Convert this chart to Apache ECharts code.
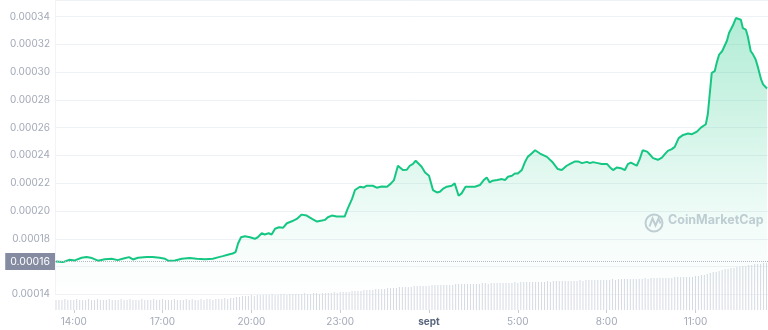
<!DOCTYPE html>
<html>
<head>
<meta charset="utf-8">
<script src="https://cdn.jsdelivr.net/npm/echarts@6/dist/echarts.min.js"></script>
<style>
html,body{margin:0;padding:0;background:#fff;}
#chart{width:768px;height:330px;}
</style>
</head>
<body>
<div id="chart"></div>
<script>
// Price samples (local time, rolls over midnight)
var priceTimes = ["13:24","13:38","13:52","14:02","14:16","14:26","14:37","14:49","15:03","15:17",
"15:29","15:41","15:52","16:00","16:10","16:28","16:40","16:54","17:05","17:11",
"17:25","17:39","17:55","18:09","18:26","18:42","18:52","19:02","19:12","19:22",
"19:28","19:33","19:39","19:47","19:57",
"20:07","20:13","20:21","20:27","20:35","20:41","20:48","20:56","21:04","21:12",
"21:22","21:32","21:42","21:52","22:03","22:13","22:23","22:29","22:35","22:43",
"22:53","23:09","23:15","23:24","23:30","23:40","23:48","23:54","23:58",
"00:06","00:14","00:24","00:35","00:43","00:49","00:57","01:01","01:07","01:15",
"01:21","01:27","01:33","01:37","01:45","01:52","01:56","02:00","02:08","02:16",
"02:22","02:28","02:36","02:46","02:52","02:56","03:00","03:06","03:14","03:22",
"03:33","03:43","03:51","03:57","04:03","04:09","04:18","04:28","04:34","04:40",
"04:48","04:54","05:00","05:08","05:14","05:20","05:28","05:35","05:45","05:59",
"06:11","06:21","06:29","06:39","06:45","06:56","07:02","07:10","07:20","07:26",
"07:32","07:42","07:50","08:01","08:07","08:13","08:21","08:31","08:37","08:43",
"08:49","08:55","09:01","09:07","09:13","09:22","09:28","09:34","09:44","09:52",
"09:58","10:04","10:12","10:18","10:22","10:26","10:35","10:45","10:53","11:03",
"11:11","11:15","11:21","11:25","11:29","11:33","11:39","11:43","11:48","11:54",
"11:58","12:04","12:08","12:16","12:22","12:26","12:32","12:36","12:42","12:46",
"12:52","12:56","13:02","13:07","13:13","13:17","13:21","13:25"];

var prices = [0.0001637,0.0001632,0.0001649,0.0001644,0.0001663,0.0001668,0.0001661,0.0001642,0.0001653,0.0001656,
0.0001646,0.0001658,0.0001668,0.0001651,0.0001663,0.0001668,0.0001668,0.0001663,0.0001656,0.0001642,
0.0001644,0.0001656,0.0001661,0.0001656,0.0001653,0.0001656,0.0001666,0.0001675,0.0001685,0.0001694,
0.0001704,0.0001766,0.0001811,0.0001818,0.0001811,
0.0001800,0.0001811,0.0001840,0.0001831,0.0001840,0.0001831,0.0001872,0.0001883,0.0001879,0.0001912,
0.0001926,0.0001943,0.0001974,0.0001967,0.0001943,0.0001924,0.0001931,0.0001936,0.0001955,0.0001967,
0.0001960,0.0001960,0.0002015,0.0002087,0.0002151,0.0002175,0.0002170,0.0002182,0.0002170,
0.0002182,0.0002168,0.0002177,0.0002175,0.0002199,0.0002223,0.0002326,0.0002319,0.0002295,0.0002297,
0.0002326,0.0002338,0.0002362,0.0002354,0.0002319,0.0002278,0.0002285,0.0002254,0.0002151,0.0002134,
0.0002139,0.0002159,0.0002175,0.0002182,0.0002199,0.0002189,0.0002110,0.0002127,0.0002175,0.0002175,
0.0002175,0.0002187,0.0002223,0.0002242,0.0002206,0.0002218,0.0002223,0.0002230,0.0002223,0.0002247,
0.0002254,0.0002270,0.0002270,0.0002295,0.0002349,0.0002390,0.0002414,0.0002438,0.0002414,0.0002390,
0.0002349,0.0002302,0.0002295,0.0002326,0.0002338,0.0002357,0.0002357,0.0002345,0.0002354,0.0002345,
0.0002352,0.0002345,0.0002338,0.0002338,0.0002314,0.0002295,0.0002314,0.0002306,0.0002295,0.0002338,
0.0002349,0.0002338,0.0002326,0.0002374,0.0002438,0.0002428,0.0002405,0.0002381,0.0002369,0.0002385,
0.0002410,0.0002433,0.0002446,0.0002462,0.0002457,0.0002525,0.0002548,0.0002558,0.0002553,0.0002572,
0.0002601,0.0002589,0.0002625,0.0002697,0.0002701,0.0002995,0.0003007,0.0003067,0.0003127,0.0003151,
0.0003139,0.0003228,0.0003282,0.0003338,0.0003390,0.0003402,0.0003378,0.0003318,0.0003307,0.0003259,
0.0003151,0.0003132,0.0003091,0.0003031,0.0002948,0.0002912,0.0002924,0.0002883];

// Volume bars, one every 6 minutes starting 13:24 (relative units)
var volumeStart = "13:24";
var volumeStepMin = 6;
var volumes = [
10,10,10,11,10,10,10,11,10,10,
10,11,10,10,11,10,10,10,11,10,
10,10,11,10,10,11,10,10,10,11,
10,10,10,11,10,10,11,10,10,10,
11,10,10,10,11,10,11,10,10,11,
10,11,11,10,11,11,11,12,11,12,
12,13,13,14,14,14,15,14,15,15,
15,15,15,16,15,15,16,16,15,16,
16,16,16,16,17,16,16,17,17,16,
17,17,17,17,18,17,18,18,18,18,
19,19,19,19,20,20,20,20,21,21,
21,21,22,22,22,22,23,23,23,23,
23,24,24,24,24,24,24,25,25,25,
25,25,25,25,25,26,26,26,26,26,
26,26,26,26,27,27,26,27,27,27,
27,27,27,27,27,28,27,28,28,28,
28,28,28,28,28,28,29,28,29,29,
29,29,29,29,29,29,29,30,29,30,
30,30,30,30,30,30,30,30,31,30,
31,31,31,31,31,31,31,31,31,32,
31,32,32,32,32,32,32,32,32,33,
33,33,33,33,33,33,34,34,35,35,
36,37,38,38,39,40,41,41,42,42,
43,43,44,44,45,45,46,46,46,47,
47];

// x-axis tick positions (minutes from day-1 midnight) and labels
var tickMinutes = [840,1020,1200,1380,1560,1740,1920,2100];
var tickLabels = ["14:00","17:00","20:00","23:00","sept","5:00","8:00","11:00"];
var yDecimals = 5;

var xMin = 802, xMax = 2247;

function toMin(s){var p=s.split(":");return (+p[0])*60+(+p[1]);}
var priceData = [];
var prev = -1, offset = 0;
for (var i=0;i<priceTimes.length;i++){
  var m = toMin(priceTimes[i]);
  if (prev >= 0 && m + offset < prev) offset += 1440;
  m += offset; prev = m;
  priceData.push([m, prices[i]]);
}
var volData = [];
var vs = toMin(volumeStart);
for (var j=0;j<volumes.length;j++){ volData.push([vs + j*volumeStepMin, volumes[j]]); }

var labelMap = {};
for (var k=0;k<tickMinutes.length;k++) labelMap[tickMinutes[k]] = tickLabels[k];

var chart = echarts.init(document.getElementById('chart'), null, {renderer:'canvas'});
var font = 'Inter, "Noto Sans", sans-serif';
var refLabel = prices[0].toFixed(yDecimals);
chart.setOption({
  animation:false,
  backgroundColor:'#ffffff',
  grid:[
    {left:55, right:0, top:-1.4, bottom:35.7},
    {left:55, right:0, top:263, bottom:20}
  ],
  xAxis:[
    {type:'value', gridIndex:0, min:xMin, max:xMax, show:false},
    {type:'value', gridIndex:1, min:xMin, max:xMax,
     axisLine:{show:false},
     splitLine:{show:false},
     axisTick:{show:true, customValues:tickMinutes, length:3, lineStyle:{color:'#c9ced8'}},
     axisLabel:{customValues:tickMinutes, margin:7, fontFamily:font, fontSize:10, color:'#a3a9b8',
       formatter:function(v){var t=labelMap[Math.round(v)]; if(t==='sept') return '{b|sept}'; return t||'';},
       rich:{b:{fontFamily:font,fontSize:10,fontWeight:'bold',color:'#58667e'}}}
    }
  ],
  yAxis:[
    {type:'value', gridIndex:0, min:0.00014, max:0.000352, interval:0.00002,
     axisLine:{show:true, lineStyle:{color:'#f1f3f6'}},
     axisTick:{show:false},
     splitLine:{lineStyle:{color:'#eff2f5', width:1}},
     axisLabel:{showMaxLabel:false, margin:5, fontFamily:font, fontSize:10, color:'#a3a9b8',
       formatter:function(v){return Number(v).toFixed(yDecimals);}}
    },
    {type:'value', gridIndex:1, min:0, max:47, show:false}
  ],
  series:[
    {type:'bar', xAxisIndex:1, yAxisIndex:1, data:volData, barWidth:1, z:1,
     itemStyle:{color:'#d6dae2'}, silent:true},
    {type:'line', xAxisIndex:0, yAxisIndex:0, data:priceData, showSymbol:false, z:3,
     lineStyle:{color:'#16c784', width:2},
     areaStyle:{color:new echarts.graphic.LinearGradient(0,0,0,1,[
       {offset:0,color:'rgba(22,199,132,0.48)'},
       {offset:0.75,color:'rgba(22,199,132,0.08)'},
       {offset:1,color:'rgba(22,199,132,0)'}])}
    },
    {type:'line', xAxisIndex:0, yAxisIndex:0, data:[], z:10, silent:true,
     markLine:{silent:true, symbol:['none','none'], z:10, animation:false,
       lineStyle:{type:'dotted', color:'#b3b8c5', width:1},
       label:{show:true, position:'start', distance:0, fontFamily:font, fontSize:10.5, color:'#ffffff',
         backgroundColor:'#858ca2', padding:[3,5,3,5],
         formatter:function(){return refLabel;}},
       data:[[{coord:[xMin, prices[0]]},{coord:[xMax, prices[0]]}]]}
    }
  ],
  graphic:[
    {type:'circle', left:643, top:212, shape:{r:8.5}, style:{fill:'none', stroke:'#c9ced8', lineWidth:2}, z:0},
    {type:'polyline', left:647, top:216, shape:{points:[[0,9],[3,1],[6,8],[9,1],[11,6]]}, style:{fill:'none', stroke:'#c9ced8', lineWidth:2}, z:0},
    {type:'text', left:668, top:214, style:{text:'CoinMarketCap', fill:'#c9ced8', font:'bold 12.5px '+font}, z:0}
  ]
});
</script>
</body>
</html>
